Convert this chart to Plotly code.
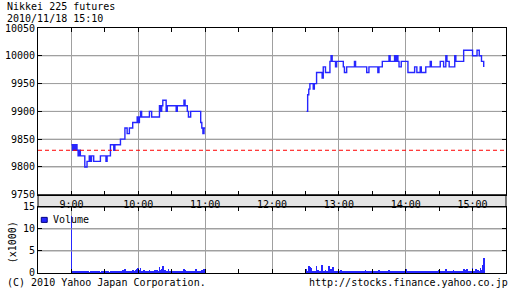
import plotly.graph_objects as go
import pandas as pd

DATE = "2010-11-18"

# ---- price data (step line, time -> price) ----
am_times = ["9:00", "9:01", "9:02", "9:03", "9:04", "9:05", "9:06", "9:07", "9:08", "9:12",
            "9:14", "9:16", "9:17", "9:18", "9:20", "9:26", "9:31", "9:32", "9:35", "9:38",
            "9:39", "9:44", "9:48", "9:50", "9:52", "9:55", "9:59", "10:00", "10:01", "10:02",
            "10:03", "10:10", "10:12", "10:19", "10:20", "10:21", "10:22", "10:25", "10:26", "10:34",
            "10:35", "10:41", "10:42", "10:44", "10:45", "10:47", "10:56", "10:57", "10:58", "10:59",
            "11:00"]
am_prices = [9840, 9830, 9840, 9830, 9840, 9830, 9820, 9830, 9820, 9800,
             9810, 9820, 9810, 9820, 9810, 9820, 9810, 9820, 9840, 9830,
             9840, 9850, 9870, 9860, 9870, 9880, 9890, 9880, 9890, 9900,
             9890, 9900, 9890, 9910, 9900, 9910, 9920, 9900, 9910, 9900,
             9910, 9920, 9910, 9900, 9890, 9900, 9880, 9870, 9860, 9870,
             9870]

pm_times = ["12:31", "12:32", "12:33", "12:34", "12:37", "12:38", "12:40", "12:45", "12:46", "12:48",
            "12:52", "12:53", "12:54", "12:57", "12:58", "13:04", "13:05", "13:07", "13:14", "13:15",
            "13:25", "13:27", "13:35", "13:36", "13:39", "13:45", "13:46", "13:50", "13:51", "13:52",
            "13:53", "13:54", "13:56", "14:02", "14:08", "14:10", "14:13", "14:14", "14:18", "14:22",
            "14:23", "14:31", "14:34", "14:36", "14:37", "14:39", "14:44", "14:45", "14:52", "15:00",
            "15:04", "15:06", "15:08", "15:10"]
pm_prices = [9900, 9930, 9940, 9950, 9940, 9950, 9970, 9960, 9980, 9970,
             9990, 10000, 9990, 9980, 9990, 9980, 9970, 9980, 9990, 9980,
             9970, 9980, 9970, 9980, 9990, 10000, 9990, 10000, 9990, 10000,
             9990, 9980, 9990, 9970, 9980, 9970, 9980, 9970, 9980, 9990,
             9980, 9990, 9980, 10000, 9990, 9980, 10000, 9990, 10010, 10000,
             10010, 10000, 9990, 9980]

prev_close = 9830

# ---- volume (x1000), one value per minute ----
am_volume_start = "9:00"
am_volume = [13.0, 0.5, 0.4, 0.3, 0.5, 0.4, 0.3, 0.4, 0.3, 0.4, 0.3, 0.3, 0.4, 0.3, 0.3, 0.3, 0.2, 0.3, 0.4, 0.3,
             0.3, 0.2, 0.3, 0.4, 0.3, 0.3, 0.2, 0.3, 0.4, 0.3, 0.3, 0.5, 0.3, 0.3, 0.2, 0.4, 0.3, 0.3, 0.5, 0.4,
             0.3, 0.4, 0.3, 0.5, 0.4, 0.3, 0.6, 0.4, 0.8, 0.3, 0.4, 0.5, 0.3, 0.4, 0.5, 0.6, 0.4, 0.5, 0.6, 0.9,
             1.1, 0.7, 1.2, 0.5, 0.4, 0.6, 0.4, 0.5, 0.3, 0.4, 0.6, 0.4, 0.5, 0.3, 0.4, 0.6, 0.5, 0.7, 0.5, 1.4,
             0.6, 0.8, 1.6, 0.5, 0.6, 0.4, 0.5, 0.9, 0.4, 0.5, 0.3, 0.4, 0.5, 0.4, 0.3, 0.4, 0.5, 0.4, 0.3, 0.4,
             0.5, 1.0, 0.6, 0.4, 0.5, 0.4, 0.3, 0.5, 0.4, 0.3, 0.4, 0.5, 0.9, 0.4, 0.3, 0.4, 0.5, 0.6, 0.7, 0.9]
pm_volume_start = "12:31"
pm_volume = [0.8, 0.4, 1.6, 1.3, 1.1, 0.5, 0.3, 0.4, 0.3, 1.6, 0.6, 0.4, 0.3, 0.5, 1.8, 0.4, 0.3, 0.7, 0.4, 0.3,
             1.6, 0.4, 1.0, 0.5, 1.3, 0.4, 0.5, 0.3, 0.4, 0.3,
             0.5, 0.7, 0.4, 0.3, 0.4, 0.5, 0.3, 0.4, 0.3, 0.4, 0.3, 0.5, 0.3, 0.4, 0.3, 0.3, 0.4, 0.3, 0.5, 0.3,
             0.3, 0.4, 0.3, 0.6, 0.3, 0.4, 0.3, 0.3, 0.4, 0.3, 0.5, 0.3, 0.3, 0.4, 0.3, 0.6, 0.4, 0.3, 0.4, 0.3,
             0.5, 0.4, 0.3, 0.4, 0.6, 0.3, 0.4, 0.3, 0.5, 0.3, 0.4, 0.3, 0.3, 0.4, 0.3, 0.5, 0.3, 0.4, 0.3, 0.8,
             0.3, 0.4, 0.3, 0.3, 0.4, 0.3, 0.5, 0.3, 0.4, 0.3, 0.3, 0.4, 0.3, 0.5, 0.3, 0.3, 0.4, 0.3, 0.4, 0.3,
             0.3, 0.4, 0.5, 0.3, 0.4, 0.3, 0.3, 0.4, 0.3, 0.6, 0.3, 0.4, 0.3, 0.3, 0.4, 0.8, 0.3, 0.4, 0.3, 0.5,
             0.3, 0.4, 0.6, 0.3, 0.4, 0.3, 0.5, 0.3, 0.4, 0.3, 0.4, 0.9, 0.3, 0.6, 0.8, 0.4, 0.3, 0.5, 0.4, 1.1,
             0.3, 0.5, 0.8, 0.4, 0.6, 0.5, 1.1, 0.6, 1.9, 3.3]

# ---- axes ----
x_range = ["8:30", "15:30"]
hour_ticks = ["9:00", "10:00", "11:00", "12:00", "13:00", "14:00", "15:00"]
hour_labels = ["9:00", "10:00", "11:00", "12:00", "13:00", "14:00", "15:00"]
minor_tick_start = "8:30"
minor_tick_minutes = 30
price_ticks = [9750, 9800, 9850, 9900, 9950, 10000, 10050]
price_labels = ["9750", "9800", "9850", "9900", "9950", "10000", "10050"]
price_range = [9750, 10050]
volume_ticks = [0, 5, 10, 15]
volume_labels = ["0", "5", "10", "15"]
volume_range = [0, 15]

title_lines = ["Nikkei 225 futures", "2010/11/18 15:10"]
footer_left = "(C) 2010 Yahoo Japan Corporation."
footer_right = "http://stocks.finance.yahoo.co.jp"
volume_label = "Volume"
volume_unit = "(x1000)"


def ts(t):
    return pd.Timestamp(f"{DATE} {t}")


def iso(t):
    return ts(t).strftime("%Y-%m-%d %H:%M:%S")


BLUE = "#2626ff"
MONO = "DejaVu Sans Mono"
GRID = "#a0a0a0"

price_x = [iso(t) for t in am_times] + [None] + [iso(t) for t in pm_times]
price_y = am_prices + [None] + pm_prices

vol_x = [d.strftime("%Y-%m-%d %H:%M:%S") for d in
         list(pd.date_range(ts(am_volume_start), periods=len(am_volume), freq="min")) +
         list(pd.date_range(ts(pm_volume_start), periods=len(pm_volume), freq="min"))]
vol_y = am_volume + pm_volume

x_lo, x_hi = iso(x_range[0]), iso(x_range[1])

fig = go.Figure()

# horizontal grid lines at the interior tick values, drawn as line traces
for axes_pair, vals in ((("x", "y"), price_ticks[1:-1]), (("x2", "y2"), volume_ticks[1:-1])):
    gx, gy = [], []
    for v in vals:
        gx += [x_lo, x_hi, None]
        gy += [v, v, None]
    fig.add_trace(go.Scatter(x=gx, y=gy, mode="lines", line=dict(color=GRID, width=1),
                             xaxis=axes_pair[0], yaxis=axes_pair[1],
                             hoverinfo="skip", showlegend=False))

fig.add_trace(go.Scatter(x=price_x, y=price_y, mode="lines", connectgaps=False,
                         line=dict(color=BLUE, width=1.4, shape="hv"),
                         xaxis="x", yaxis="y", showlegend=False))
fig.add_trace(go.Bar(x=vol_x, y=vol_y, marker=dict(color=BLUE, line=dict(width=0)),
                     width=40000, xaxis="x2", yaxis="y2", showlegend=False))

MAIN_DOM = [0.3194, 1.0]
VOL_DOM = [0.0, 0.2694]


def x_axis(**kw):
    d = dict(
        type="date", range=[x_lo, x_hi],
        tickmode="array", tickvals=[iso(t) for t in hour_ticks],
        showgrid=True, gridcolor=GRID, gridwidth=1,
        ticks="inside", ticklen=4, tickcolor="black", tickwidth=1,
        showline=True, linecolor="black", linewidth=1, mirror="allticks",
        minor=dict(tick0=iso(minor_tick_start), dtick=minor_tick_minutes * 60000,
                   ticks="inside", ticklen=4, tickcolor="black", showgrid=False),
        zeroline=False, fixedrange=True,
    )
    d.update(kw)
    return d


def y_axis(**kw):
    d = dict(
        showgrid=True, gridcolor=GRID, gridwidth=1,
        ticks="inside", ticklen=4, tickcolor="black", tickwidth=1,
        showline=True, linecolor="black", linewidth=1, mirror="allticks",
        zeroline=False, fixedrange=True,
        tickfont=dict(family=MONO, size=10, color="black"),
    )
    d.update(kw)
    return d


fig.update_layout(
    width=512, height=301,
    margin=dict(l=34, r=5, t=28, b=28),
    paper_bgcolor="white", plot_bgcolor="white",
    bargap=0,
    font=dict(family=MONO, size=10, color="black"),
    xaxis=x_axis(domain=[0, 1], anchor="y", showticklabels=True, ticktext=hour_labels,
                 tickfont=dict(family=MONO, size=10, color="black")),
    yaxis=y_axis(domain=MAIN_DOM, anchor="x", range=price_range,
                 tickmode="array", tickvals=price_ticks, ticktext=price_labels),
    xaxis2=x_axis(domain=[0, 1], anchor="y2", showticklabels=False),
    yaxis2=y_axis(domain=VOL_DOM, anchor="x2", range=volume_range,
                  tickmode="array", tickvals=volume_ticks, ticktext=volume_labels),
)

# grey band holding the time labels between the two panels
fig.add_shape(type="rect", xref="paper", yref="paper", x0=0, x1=1,
              y0=VOL_DOM[1], y1=MAIN_DOM[0], fillcolor="#e4e4e4",
              line=dict(color="black", width=1), layer="below")

# previous close reference line
fig.add_shape(type="line", xref="x domain", yref="y", x0=0, x1=1,
              y0=prev_close, y1=prev_close,
              line=dict(color="#ff0000", width=1, dash="4px,3px"))

# legend swatch for volume
fig.add_shape(type="rect", xref="x2 domain", yref="y2 domain",
              x0=0.007, x1=0.0197, y0=0.767, y1=0.843,
              fillcolor=BLUE, line=dict(color="#000080", width=1))

annotations = [
    dict(text=title_lines[0], x=-0.0698, y=1.0878, xanchor="left"),
    dict(text=title_lines[1], x=-0.0698, y=1.0408, xanchor="left"),
    dict(text=footer_left, x=-0.0698, y=-0.0408, xanchor="left"),
    dict(text=footer_right, x=1.0085, y=-0.0408, xanchor="right"),
]
for a in annotations:
    fig.add_annotation(xref="paper", yref="paper", yanchor="middle", showarrow=False,
                       font=dict(family=MONO, size=10, color="black"), **a)

fig.add_annotation(xref="x2 domain", yref="y2 domain", x=0.027, y=0.805,
                   text=volume_label, xanchor="left", yanchor="middle", showarrow=False,
                   font=dict(family=MONO, size=10, color="black"))
fig.add_annotation(xref="paper", yref="paper", x=-0.055, y=0.1265, text=volume_unit,
                   textangle=-90, xanchor="center", yanchor="middle", showarrow=False,
                   font=dict(family=MONO, size=10, color="black"))

fig.write_html("out.html")
